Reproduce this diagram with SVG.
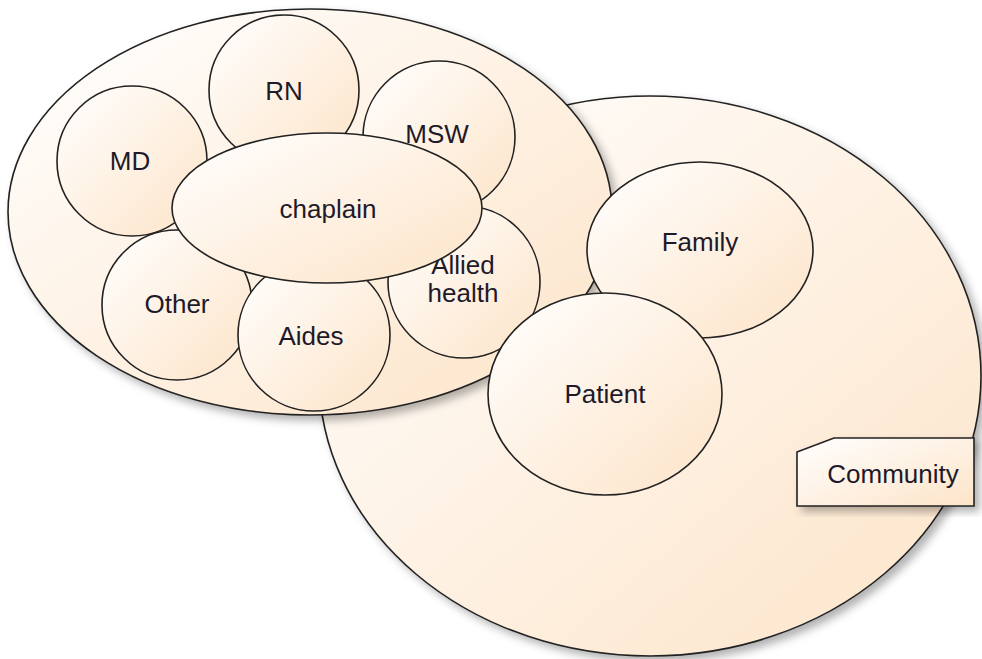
<svg xmlns="http://www.w3.org/2000/svg" width="982" height="659" viewBox="0 0 982 659">
<defs>
<linearGradient id="g" x1="0" y1="0" x2="1" y2="1">
<stop offset="0" stop-color="#ffffff"/>
<stop offset="1" stop-color="#fde4c8"/>
</linearGradient>
<filter id="sh" x="-10%" y="-10%" width="125%" height="125%">
<feDropShadow dx="5" dy="5" stdDeviation="4" flood-color="#000" flood-opacity="0.3"/>
</filter>
</defs>
<style>
.n{fill:url(#g);stroke:#222;stroke-width:1.6}
.t{font-family:"Liberation Sans",Arial,sans-serif;font-size:26px;fill:#1e1a2a;text-anchor:middle;dominant-baseline:central}
</style>
<rect width="982" height="659" fill="#fff"/>
<g id="community"><ellipse class="n" filter="url(#sh)" cx="650" cy="376" rx="331" ry="280"/></g>
<g id="team"><ellipse class="n" filter="url(#sh)" cx="310" cy="212" rx="302" ry="203"/></g>
<g id="rn"><circle class="n" cx="284" cy="90" r="75"/><text class="t" x="284" y="91">RN</text></g>
<g id="md"><circle class="n" cx="132" cy="161" r="75"/><text class="t" x="130" y="161">MD</text></g>
<g id="msw"><circle class="n" cx="439" cy="137" r="76"/><text class="t" x="437" y="134">MSW</text></g>
<g id="other"><circle class="n" cx="177" cy="305" r="75"/><text class="t" x="177" y="304">Other</text></g>
<g id="aides"><circle class="n" cx="314" cy="335" r="76"/><text class="t" x="311" y="336">Aides</text></g>
<g id="allied"><circle class="n" cx="464" cy="282" r="76"/><text class="t" x="463" y="265">Allied</text><text class="t" x="463" y="293">health</text></g>
<g id="chaplain"><ellipse class="n" cx="327" cy="208" rx="155" ry="75"/><text class="t" x="328" y="209">chaplain</text></g>
<g id="family"><ellipse class="n" cx="700" cy="250" rx="113" ry="88"/><text class="t" x="700" y="242">Family</text></g>
<g id="patient"><ellipse class="n" cx="605" cy="394" rx="117" ry="101"/><text class="t" x="605" y="394">Patient</text></g>
<g id="community-label"><polygon class="n" filter="url(#sh)" points="797,452 834,438 974,438 974,506 797,506"/><text class="t" x="893" y="474">Community</text></g>
<g id="connectors"/>
</svg>
